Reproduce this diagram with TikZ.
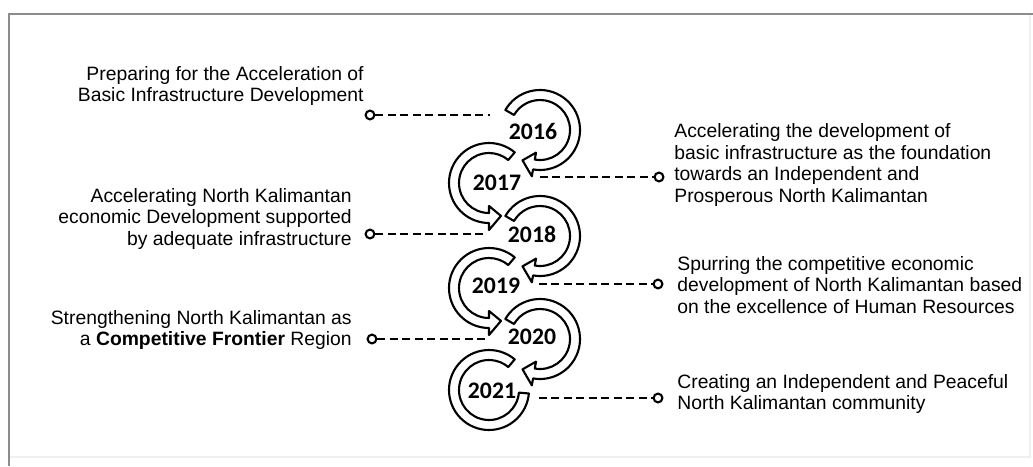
\documentclass[tikz,border=0pt]{standalone}
\usepackage{fontspec}
\setmainfont{Liberation Sans}
\newfontfamily\yearfont{Carlito}
\usetikzlibrary{positioning}
\definecolor{framegray}{gray}{0.55}

\begin{document}
\begin{tikzpicture}[x=0.02cm, y=0.02cm,
    yearlabel/.style={font=\yearfont\bfseries\fontsize{13.5}{15}\selectfont, inner sep=0pt},
    note/.style={font=\fontsize{11}{12.3}\selectfont, inner sep=0pt},
    dot/.style={circle, draw, fill=white, line width=1.2pt, inner sep=0pt, minimum size=5pt},
    link/.style={line width=1.2pt, dash pattern=on 4.5pt off 2.6pt},
    band/.style={draw, fill=white, line width=1.2pt, line join=round}]
    \useasboundingbox (0,0) rectangle (1033,-466);

    % Frame
    \draw[gray!12, line width=1pt] (9,-457) -- (1030,-457) -- (1030,-14);
    \draw[framegray, line width=1.3pt] (9,-466) -- (9,-14) -- (1033,-14);

    % Cycle arrows: centre x / centre y / start / head base / tip
    \foreach \cx/\cy/\a/\h/\b in {540/130/150/-100/-120, 489/183/50/270/290,
                                  540/236/150/-100/-120, 489/288/50/270/290,
                                  540/339/150/-100/-120}
        \draw[band, shift={(\cx,-\cy)}] (\a:40) arc[start angle=\a, end angle=\h, radius=40]
            -- (\h:47) -- (\b:35) -- (\h:23) -- (\h:30)
            arc[start angle=\h, end angle=\a, radius=30] -- cycle;
    % last cycle has no head
    \draw[band, shift={(489,-390)}] (50:40) arc[start angle=50, end angle=355, radius=40]
        -- (355:30) arc[start angle=355, end angle=50, radius=30] -- cycle;

    % Years
    \node[yearlabel] (y2016) at (533,-131) {2016};
    \node[yearlabel] (y2017) at (497,-183) {2017};
    \node[yearlabel] (y2018) at (532,-234) {2018};
    \node[yearlabel] (y2019) at (496,-286) {2019};
    \node[yearlabel] (y2020) at (532,-337) {2020};
    \node[yearlabel] (y2021) at (492,-391) {2021};

    % Left notes
    \node[note, align=right, anchor=east] (t2016) at (364,-86)
        {Preparing for the Acceleration of\\Basic Infrastructure Development};
    \node[note, align=right, anchor=east] (t2018) at (352,-219)
        {Accelerating North Kalimantan\\economic Development supported\\by adequate infrastructure};
    \node[note, align=right, anchor=east] (t2020) at (352,-330)
        {Strengthening North Kalimantan as\\a \textbf{Competitive Frontier} Region};

    % Right notes
    \node[note, align=left, anchor=west] (t2017) at (674,-165)
        {Accelerating the development of\\basic infrastructure as the foundation\\towards an Independent and\\Prosperous North Kalimantan};
    \node[note, align=left, anchor=west] (t2019) at (677,-285)
        {Spurring the competitive economic\\development of North Kalimantan based\\on the excellence of Human Resources};
    \node[note, align=left, anchor=west] (t2021) at (677,-394)
        {Creating an Independent and Peaceful\\North Kalimantan community};

    % Dashed links
    \node[dot] (c2016) at (370,-115) {};
    \coordinate (e2016) at (490,-115);
    \draw[link] (c2016) -- (e2016);

    \coordinate (e2017) at (540,-177);
    \node[dot] (c2017) at (659,-177) {};
    \draw[link] (e2017) -- (c2017);

    \node[dot] (c2018) at (370,-234) {};
    \coordinate (e2018) at (486,-234);
    \draw[link] (c2018) -- (e2018);

    \coordinate (e2019) at (539,-284);
    \node[dot] (c2019) at (658,-284) {};
    \draw[link] (e2019) -- (c2019);

    \node[dot] (c2020) at (372,-339) {};
    \coordinate (e2020) at (486,-339);
    \draw[link] (c2020) -- (e2020);

    \coordinate (e2021) at (539,-398);
    \node[dot] (c2021) at (658,-398) {};
    \draw[link] (e2021) -- (c2021);
\end{tikzpicture}
\end{document}
